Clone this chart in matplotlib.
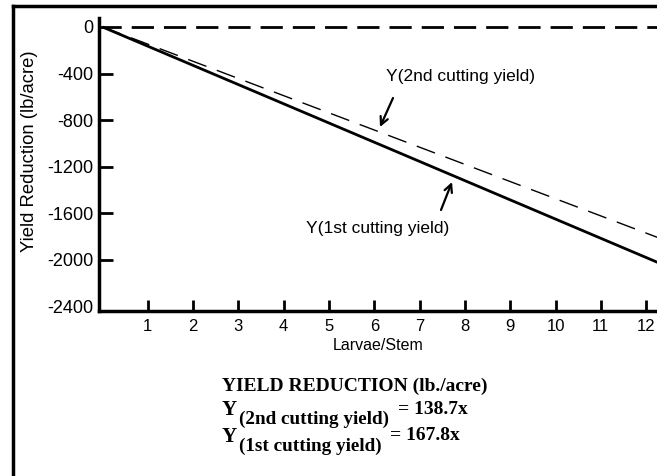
import matplotlib
matplotlib.use("Agg")
import matplotlib.pyplot as plt
from matplotlib.lines import Line2D

# data
larvae = [0, 12.3]
yield_2nd = [0, -1815]   # Y(2nd cutting yield), dashed
yield_1st = [0, -2030]   # Y(1st cutting yield), solid
xticks = list(range(1, 13))
yticks = [0, -400, -800, -1200, -1600, -2000, -2400]

plt.rcParams['font.family'] = ['Liberation Sans', 'DejaVu Sans']

W, H = 657, 476
fig = plt.figure(figsize=(W / 100, H / 100), dpi=100)

def fx(px):
    return px / W

def fy(py):
    return 1 - py / H

ax = fig.add_axes([fx(99), fy(311), fx(657) - fx(99), fy(18) - fy(311)])
ax.set_xlim(-0.077, 12.24)
ax.set_ylim(-2440, 77)

ax.plot(larvae, yield_1st, color='black', lw=2, solid_capstyle='butt')
ax.plot(larvae, yield_2nd, color='black', lw=1, dashes=(14, 8))
ax.axhline(0, color='black', lw=2, dashes=(8, 3.6))

for s in ['top', 'right']:
    ax.spines[s].set_visible(False)
for s in ['left', 'bottom']:
    ax.spines[s].set_linewidth(2.5)

ax.set_xticks(xticks)
ax.set_yticks(yticks)
ax.set_yticklabels([str(v) for v in yticks])
ax.tick_params(axis='x', direction='in', length=8, width=2, labelsize=12, pad=6)
ax.tick_params(axis='y', direction='in', length=10, width=2, labelsize=13, pad=4)
for t in ax.yaxis.get_major_ticks():
    if t.get_loc() in (0, -2400):
        t.tick1line.set_visible(False)

ax.set_xlabel('Larvae/Stem', fontsize=11.5, labelpad=3)
fig.text(fx(30), fy(151), 'Yield Reduction (lb/acre)', fontsize=13.3,
         rotation=90, ha='center', va='center')

# line labels and their arrows
fig.text(fx(461), fy(77), 'Y(2nd cutting yield)', fontsize=12.5, ha='center', va='center')
fig.text(fx(378), fy(228), 'Y(1st cutting yield)', fontsize=12.5, ha='center', va='center')
arrow = dict(arrowstyle='->', color='black', lw=1.6, shrinkA=0, shrinkB=0,
             mutation_scale=14)
ax.annotate('', xy=(380, H - 127), xytext=(393, H - 98),
            xycoords='figure pixels', textcoords='figure pixels', arrowprops=arrow)
ax.annotate('', xy=(452, H - 182), xytext=(441, H - 210),
            xycoords='figure pixels', textcoords='figure pixels', arrowprops=arrow)

# outer frame (left and top edges)
fig.add_artist(Line2D([fx(13), fx(13)], [fy(6), 0], color='black', lw=2.5,
                      transform=fig.transFigure))
fig.add_artist(Line2D([fx(13), 1], [fy(6), fy(6)], color='black', lw=2.5,
                      transform=fig.transFigure))

serif = dict(family='Liberation Serif', weight='bold', color='black')
fig.text(fx(222), fy(386), 'YIELD REDUCTION (lb./acre)', fontsize=14,
         va='center', ha='left', **serif)
fig.text(fx(222), fy(410), 'Y', fontsize=15, va='center', ha='left', **serif)
fig.text(fx(239), fy(419), '(2nd cutting yield)', fontsize=13.8, va='center', ha='left', **serif)
fig.text(fx(398), fy(409), '= 138.7x', fontsize=14, va='center', ha='left', **serif)
fig.text(fx(222), fy(437), 'Y', fontsize=15, va='center', ha='left', **serif)
fig.text(fx(239), fy(446), '(1st cutting yield)', fontsize=13.8, va='center', ha='left', **serif)
fig.text(fx(390), fy(436), '= 167.8x', fontsize=14, va='center', ha='left', **serif)

fig.savefig('out.png', dpi=100)
